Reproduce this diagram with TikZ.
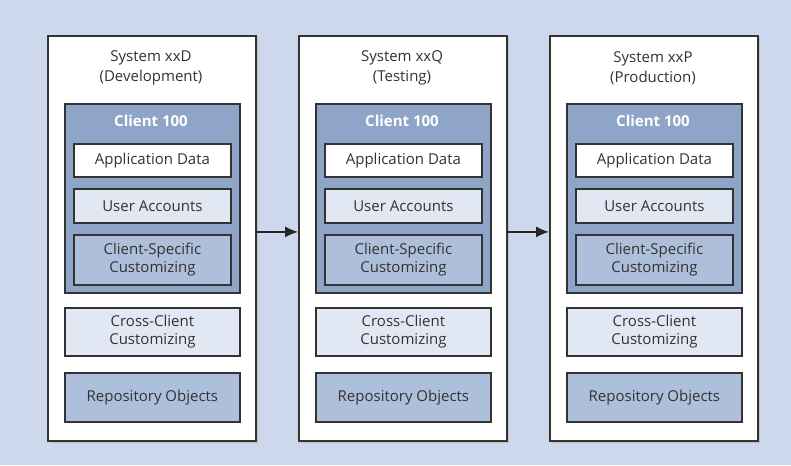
\documentclass[tikz,border=0pt]{standalone}
\usepackage{fontspec}
\setmainfont{Open Sans}
\usetikzlibrary{arrows.meta}
\definecolor{bgblue}{HTML}{CDD8EC}
\definecolor{clientblue}{HTML}{8FA5C8}
\definecolor{midblue}{HTML}{AEBFDB}
\definecolor{paleblue}{HTML}{E2E8F3}
\definecolor{edge}{HTML}{333333}
\tikzset{
  x=1pt, y=-1pt,
  box/.style={draw=edge, line width=1.8pt, minimum width=#1, inner sep=0pt, align=center,
              font=\fontsize{15}{18}\selectfont, text=black!80},
  systembox/.style={box=208pt, fill=white, minimum height=405pt},
  clientbox/.style={box=175pt, fill=clientblue, minimum height=189pt},
  itembox/.style={box=157pt, minimum height=#1},
  outerbox/.style={box=175pt, minimum height=#1},
  label/.style={align=center, font=\fontsize{15}{20}\selectfont, text=black!80, inner sep=0pt},
  flow/.style={draw=black!85, line width=1.4pt, -{Latex[length=13pt,width=11pt]}}
}
\begin{document}
\begin{tikzpicture}
\fill[bgblue] (0,0) rectangle (791,465);
\useasboundingbox (0,0) rectangle (791,465);
\foreach \i/\x/\name/\role in {1/47/xxD/Development, 2/298/xxQ/Testing, 3/549/xxP/Production}{
  % soft shadow on the right and bottom edges
  \fill[black!25] (\x+2.5,37.5) rectangle (\x+210.5,442.5);
  \node[systembox, anchor=north west] (sys\i) at (\x,35) {};
  \node[label] (title\i) at (\x+104,68) {System \name\\(\role)};
  \node[clientbox, anchor=north west] (client\i) at (\x+17,103) {};
  \node[label, text=white, font=\bfseries\fontsize{15}{18}\selectfont] (cname\i) at (\x+104,121) {Client 100};
  \node[itembox=33pt, fill=white, anchor=north west] (app\i) at (\x+26,143) {Application Data};
  \node[itembox=34pt, fill=paleblue, anchor=north west] (user\i) at (\x+26,188) {User Accounts};
  \node[itembox=50pt, fill=midblue, anchor=north west] (cust\i) at (\x+26,234) {Client-Specific\\Customizing};
  \node[outerbox=48pt, fill=paleblue, anchor=north west] (cross\i) at (\x+17,307) {Cross-Client\\Customizing};
  \node[outerbox=49pt, fill=midblue, anchor=north west] (repo\i) at (\x+17,372) {Repository Objects};
}
\draw[flow] ([yshift=6.5pt]sys1.east) -- ([yshift=6.5pt]sys2.west);
\draw[flow] ([yshift=6.5pt]sys2.east) -- ([yshift=6.5pt]sys3.west);
\end{tikzpicture}
\end{document}
